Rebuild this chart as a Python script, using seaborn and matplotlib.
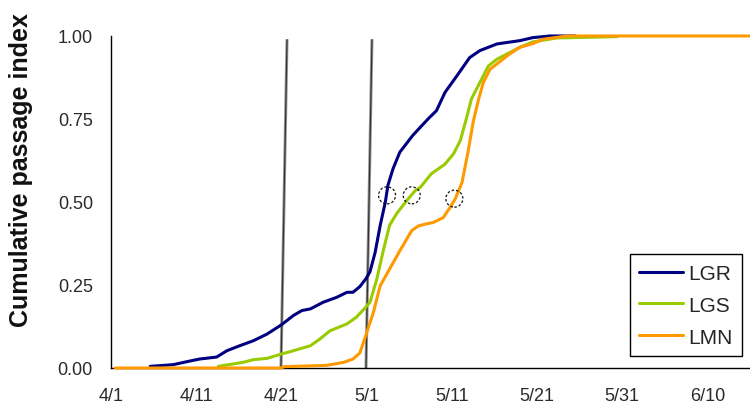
import numpy as np
import pandas as pd
import matplotlib
matplotlib.use("Agg")
import matplotlib.pyplot as plt
import seaborn as sns

# Days since April 1 and cumulative passage index per site
lgr_day = [4.6, 7.3, 8.9, 10.4, 12.4, 13.6, 15.1, 16.7, 18.3, 20.0, 21.4, 22.4, 23.4,
           24.9, 26.5, 27.7, 28.4, 29.2, 29.9, 30.4, 31.0, 31.6, 32.2, 32.5, 33.1,
           33.9, 34.5, 35.4, 36.3, 37.4, 38.2, 39.2, 40.6, 42.1, 43.3, 45.3, 48.0,
           49.5, 51.5, 54.5]
lgr_val = [0.005, 0.010, 0.019, 0.027, 0.033, 0.052, 0.067, 0.082, 0.102, 0.130, 0.158,
           0.173, 0.178, 0.198, 0.213, 0.228, 0.228, 0.245, 0.268, 0.290, 0.348, 0.430,
           0.500, 0.550, 0.600, 0.650, 0.670, 0.700, 0.725, 0.755, 0.775, 0.830, 0.880,
           0.935, 0.956, 0.976, 0.986, 0.995, 1.000, 1.000]

lgs_day = [12.6, 15.5, 16.7, 18.3, 20.0, 21.4, 23.4, 24.5, 25.7, 27.7, 28.8, 29.9, 30.4,
           31.2, 32.0, 32.7, 33.5, 34.7, 35.7, 36.3, 37.6, 39.2, 40.2, 41.0, 41.7, 42.3,
           43.3, 44.3, 45.3, 46.8, 48.0, 49.5, 52.3, 59.4]
lgs_val = [0.005, 0.017, 0.025, 0.029, 0.042, 0.052, 0.067, 0.087, 0.112, 0.133, 0.153,
           0.183, 0.198, 0.268, 0.358, 0.430, 0.464, 0.504, 0.534, 0.544, 0.585, 0.614,
           0.645, 0.685, 0.750, 0.810, 0.860, 0.910, 0.930, 0.950, 0.966, 0.982, 0.994,
           0.998]

lmn_day = [0.5, 20.0, 20.3, 25.3, 27.3, 28.4, 29.2, 29.8, 30.8, 31.6, 32.7, 33.9, 35.3,
           36.1, 37.0, 37.8, 39.0, 39.8, 40.4, 41.2, 41.9, 42.5, 43.1, 43.7, 44.5, 45.7,
           46.8, 48.0, 49.5, 50.7, 53.5, 75.0]
lmn_val = [0.000, 0.000, 0.004, 0.008, 0.017, 0.027, 0.045, 0.090, 0.168, 0.248, 0.298,
           0.353, 0.414, 0.428, 0.434, 0.438, 0.453, 0.484, 0.509, 0.559, 0.650, 0.740,
           0.805, 0.860, 0.900, 0.924, 0.946, 0.966, 0.977, 0.990, 1.000, 1.000]

sites = ["LGR", "LGS", "LMN"]
site_colors = ["#000080", "#99cc00", "#ff9900"]

# Median passage markers
median_day = [32.4, 35.3, 40.3]
median_val = [0.52, 0.52, 0.51]

# Reference lines (bottom and top day positions)
ref_bottom_day = [19.95, 29.93]
ref_top_day = [20.66, 30.63]
ref_top_val = 0.99

tick_days = [0, 10, 20, 30, 40, 50, 60, 70]
tick_labels = ["4/1", "4/11", "4/21", "5/1", "5/11", "5/21", "5/31", "6/10"]
y_ticks = [0.0, 0.25, 0.5, 0.75, 1.0]

df = pd.concat([
    pd.DataFrame({"day": lgr_day, "index": lgr_val, "site": "LGR"}),
    pd.DataFrame({"day": lgs_day, "index": lgs_val, "site": "LGS"}),
    pd.DataFrame({"day": lmn_day, "index": lmn_val, "site": "LMN"}),
], ignore_index=True)

sns.set_style("white")
plt.rcParams["font.family"] = ["Liberation Sans", "DejaVu Sans"]

fig = plt.figure(figsize=(7.5, 4.14), dpi=100)
ax = fig.add_axes([0.148, 0.1087, 0.852, 0.802])

for x0, x1 in zip(ref_bottom_day, ref_top_day):
    ax.plot([x0, x1], [0, ref_top_val], color="#9a9a9a", lw=2.2, zorder=2,
            solid_capstyle="butt")
    ax.plot([x0, x1], [0, ref_top_val], color="#333333", lw=0.9, zorder=2,
            solid_capstyle="butt")

n_ref = len(ax.get_lines())
sns.lineplot(data=df, x="day", y="index", hue="site", hue_order=sites,
             palette=site_colors, estimator=None, sort=True, lw=2.2, ax=ax,
             zorder=3, legend=False)
for ln in ax.get_lines()[n_ref:]:
    ln.set_clip_on(False)

ax.scatter(median_day, median_val, s=150, facecolors="none", edgecolors="#111111",
           linewidths=0.9, linestyles=(0, (2.0, 1.6)), zorder=4)

ax.set_xlim(0, 75)
ax.set_ylim(0, 1.0)
ax.set_xticks(tick_days)
ax.set_xticklabels(tick_labels)
ax.set_yticks(y_ticks)
ax.set_yticklabels([f"{v:.2f}" for v in y_ticks])
ax.tick_params(axis="both", which="major", labelsize=13, labelcolor="#2a2a2a",
               color="black", width=1, direction="out")
ax.tick_params(axis="x", length=5, pad=9)
ax.tick_params(axis="y", length=6, pad=7)

for side in ["top", "right"]:
    ax.spines[side].set_visible(False)
for side in ["left", "bottom"]:
    ax.spines[side].set_color("black")
    ax.spines[side].set_linewidth(1.0)

ax.set_xlabel("")
ax.set_ylabel("Cumulative passage index", fontsize=18, fontweight="bold",
              color="#111111")
ax.yaxis.set_label_coords(-0.122, 0.60)

handles = [plt.Line2D([], [], color=c, lw=2.2) for c in site_colors]
leg = ax.legend(handles, sites, loc="lower right", bbox_to_anchor=(0.9875, 0.036),
                fontsize=15, frameon=True, fancybox=False, framealpha=1,
                edgecolor="black", handlelength=2.1, handletextpad=0.25,
                labelspacing=0.62, borderpad=0.45, borderaxespad=0)
leg.get_frame().set_linewidth(1.0)

fig.savefig("out.png", dpi=100, facecolor="white")
